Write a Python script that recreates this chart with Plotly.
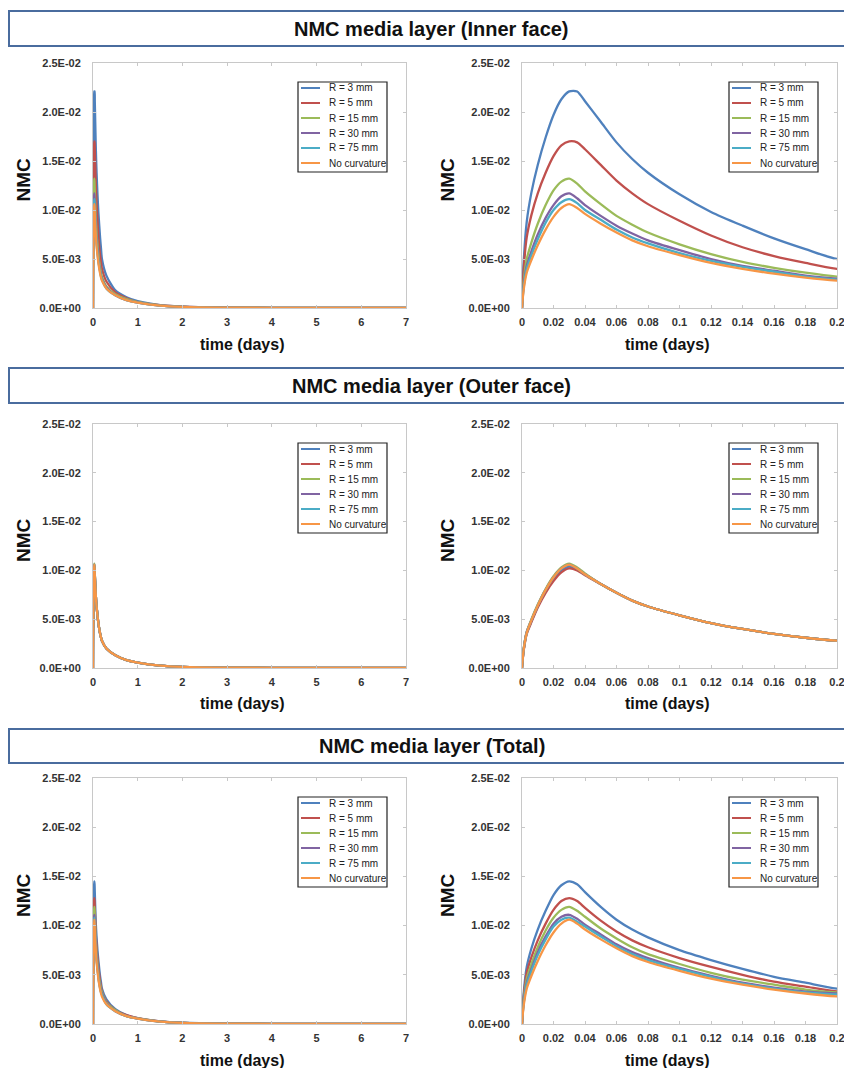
import plotly.graph_objects as go

# ---------------- data ----------------
T = [0, 0.001, 0.003, 0.006, 0.01, 0.015, 0.02, 0.025, 0.03, 0.035, 0.04, 0.05, 0.06, 0.07,
     0.08, 0.1, 0.12, 0.14, 0.16, 0.18, 0.2, 0.3, 0.5, 0.75, 1, 1.5, 2, 3, 4, 5, 6, 7]

SERIES_NAMES = ["R = 3 mm", "R = 5 mm", "R = 15 mm", "R = 30 mm", "R = 75 mm", "No curvature"]
SERIES_COLORS = ["#4F81BD", "#C0504D", "#9BBB59", "#8064A2", "#4BACC6", "#F79646"]

INNER_R3 = [0, 0.0045, 0.0088, 0.0118, 0.0146, 0.0174, 0.0197, 0.0213, 0.0221, 0.0221, 0.0211, 0.0190, 0.0169, 0.0152,
            0.0138, 0.0116, 0.0098, 0.0084, 0.0071, 0.0060, 0.0050, 0.0033, 0.0018, 0.0011, 0.0007, 0.0003, 0.00015, 0.00005, 0.00002, 0.00001, 0.000005, 0.000002]
INNER_R5 = [0, 0.0038, 0.0072, 0.0095, 0.0117, 0.0138, 0.0155, 0.0166, 0.0170, 0.0169, 0.0162, 0.0146, 0.0130, 0.0117,
            0.0106, 0.0089, 0.0074, 0.0062, 0.0053, 0.0046, 0.0040, 0.0027, 0.0016, 0.0010, 0.0006, 0.00028, 0.00013, 0.00005, 0.00002, 0.00001, 0.000005, 0.000002]
INNER_R15 = [0, 0.0026, 0.0050, 0.0067, 0.0086, 0.0105, 0.0120, 0.0129, 0.0132, 0.0127, 0.0119, 0.0106, 0.0094, 0.0085,
             0.0077, 0.0065, 0.0055, 0.0047, 0.0041, 0.0036, 0.0032, 0.0022, 0.0014, 0.0009, 0.0006, 0.00026, 0.00012, 0.00004, 0.00002, 0.00001, 0.000005, 0.000002]
INNER_R30 = [0, 0.0022, 0.0043, 0.0058, 0.0075, 0.0092, 0.0105, 0.0114, 0.0117, 0.0112, 0.0105, 0.0094, 0.0084, 0.0076,
             0.0069, 0.0059, 0.0050, 0.0043, 0.0038, 0.0033, 0.0030, 0.0021, 0.0013, 0.0008, 0.00056, 0.00025, 0.00012, 0.00004, 0.00002, 0.00001, 0.000005, 0.000002]
INNER_R75 = [0, 0.0020, 0.0040, 0.0054, 0.0070, 0.0087, 0.0100, 0.0108, 0.0111, 0.0107, 0.0100, 0.0090, 0.0080, 0.0072,
             0.0066, 0.0056, 0.0048, 0.0042, 0.0037, 0.0032, 0.0029, 0.0020, 0.0013, 0.0008, 0.00055, 0.00025, 0.00012, 0.00004, 0.00002, 0.00001, 0.000005, 0.000002]
INNER_FLAT = [0, 0.0018, 0.0036, 0.0049, 0.0064, 0.0080, 0.0093, 0.0102, 0.0106, 0.0102, 0.0096, 0.0086, 0.0077, 0.0069,
              0.0063, 0.0054, 0.0046, 0.0040, 0.0035, 0.0031, 0.0028, 0.0020, 0.0013, 0.0008, 0.00055, 0.00025, 0.00012, 0.00004, 0.00002, 0.00001, 0.000005, 0.000002]

OUTER_R3 = [0, 0.0018, 0.0036, 0.0048, 0.0063, 0.0079, 0.0091, 0.0100, 0.0104, 0.0101, 0.0096, 0.0086, 0.0077, 0.0069,
            0.0063, 0.0054, 0.0046, 0.0040, 0.0035, 0.0031, 0.0028, 0.0020, 0.0013, 0.0008, 0.00055, 0.00025, 0.00012, 0.00004, 0.00002, 0.00001, 0.000005, 0.000002]
OUTER_R5 = [0, 0.0017, 0.0035, 0.0047, 0.0062, 0.0077, 0.0089, 0.0098, 0.0102, 0.0100, 0.0095, 0.0086, 0.0077, 0.0069,
            0.0063, 0.0054, 0.0046, 0.0040, 0.0035, 0.0031, 0.0028, 0.0020, 0.0013, 0.0008, 0.00055, 0.00025, 0.00012, 0.00004, 0.00002, 0.00001, 0.000005, 0.000002]
OUTER_R15 = [0, 0.0019, 0.0037, 0.0050, 0.0065, 0.0081, 0.0094, 0.0103, 0.0107, 0.0103, 0.0097, 0.0086, 0.0077, 0.0069,
             0.0063, 0.0054, 0.0046, 0.0040, 0.0035, 0.0031, 0.0028, 0.0020, 0.0013, 0.0008, 0.00055, 0.00025, 0.00012, 0.00004, 0.00002, 0.00001, 0.000005, 0.000002]
OUTER_R30 = [0, 0.0018, 0.0037, 0.0049, 0.0064, 0.0080, 0.0093, 0.0102, 0.0106, 0.0102, 0.0096, 0.0086, 0.0077, 0.0069,
             0.0063, 0.0054, 0.0046, 0.0040, 0.0035, 0.0031, 0.0028, 0.0020, 0.0013, 0.0008, 0.00055, 0.00025, 0.00012, 0.00004, 0.00002, 0.00001, 0.000005, 0.000002]
OUTER_R75 = [0, 0.0018, 0.0036, 0.0049, 0.0064, 0.0080, 0.0093, 0.0102, 0.0106, 0.0102, 0.0096, 0.0086, 0.0077, 0.0069,
             0.0063, 0.0054, 0.0046, 0.0040, 0.0035, 0.0031, 0.0028, 0.0020, 0.0013, 0.0008, 0.00055, 0.00025, 0.00012, 0.00004, 0.00002, 0.00001, 0.000005, 0.000002]
OUTER_FLAT = [0, 0.0018, 0.0036, 0.0049, 0.0064, 0.0080, 0.0093, 0.0102, 0.0106, 0.0102, 0.0096, 0.0086, 0.0077, 0.0069,
              0.0063, 0.0054, 0.0046, 0.0040, 0.0035, 0.0031, 0.0028, 0.0020, 0.0013, 0.0008, 0.00055, 0.00025, 0.00012, 0.00004, 0.00002, 0.00001, 0.000005, 0.000002]

TOTAL_R3 = [0, 0.0030, 0.0058, 0.0077, 0.0096, 0.0115, 0.0131, 0.0141, 0.0145, 0.0142, 0.0134, 0.0119, 0.0106, 0.0096,
            0.0088, 0.0075, 0.0065, 0.0056, 0.0048, 0.0042, 0.0036, 0.0025, 0.0015, 0.0009, 0.0006, 0.00027, 0.00013, 0.00004, 0.00002, 0.00001, 0.000005, 0.000002]
TOTAL_R5 = [0, 0.0026, 0.0052, 0.0068, 0.0085, 0.0102, 0.0116, 0.0125, 0.0128, 0.0125, 0.0118, 0.0105, 0.0094, 0.0085,
            0.0078, 0.0067, 0.0058, 0.0050, 0.0043, 0.0038, 0.0033, 0.0023, 0.0014, 0.0009, 0.0006, 0.00026, 0.00012, 0.00004, 0.00002, 0.00001, 0.000005, 0.000002]
TOTAL_R15 = [0, 0.0023, 0.0046, 0.0061, 0.0078, 0.0095, 0.0108, 0.0116, 0.0119, 0.0115, 0.0109, 0.0097, 0.0087, 0.0078,
             0.0071, 0.0061, 0.0052, 0.0045, 0.0040, 0.0035, 0.0032, 0.0022, 0.0014, 0.0008, 0.00056, 0.00025, 0.00012, 0.00004, 0.00002, 0.00001, 0.000005, 0.000002]
TOTAL_R30 = [0, 0.0021, 0.0042, 0.0056, 0.0073, 0.0089, 0.0102, 0.0109, 0.0111, 0.0107, 0.0101, 0.0091, 0.0081, 0.0073,
             0.0067, 0.0057, 0.0049, 0.0042, 0.0037, 0.0033, 0.0031, 0.0021, 0.0013, 0.0008, 0.00055, 0.00025, 0.00012, 0.00004, 0.00002, 0.00001, 0.000005, 0.000002]
TOTAL_R75 = [0, 0.0020, 0.0040, 0.0054, 0.0070, 0.0086, 0.0099, 0.0106, 0.0108, 0.0104, 0.0099, 0.0089, 0.0079, 0.0071,
             0.0065, 0.0056, 0.0048, 0.0041, 0.0036, 0.0032, 0.0030, 0.0020, 0.0013, 0.0008, 0.00055, 0.00025, 0.00012, 0.00004, 0.00002, 0.00001, 0.000005, 0.000002]
TOTAL_FLAT = [0, 0.0018, 0.0036, 0.0049, 0.0064, 0.0080, 0.0093, 0.0102, 0.0106, 0.0102, 0.0096, 0.0086, 0.0077, 0.0069,
              0.0063, 0.0054, 0.0046, 0.0040, 0.0035, 0.0031, 0.0028, 0.0020, 0.0013, 0.0008, 0.00055, 0.00025, 0.00012, 0.00004, 0.00002, 0.00001, 0.000005, 0.000002]

SECTION_TITLES = ["NMC media layer (Inner face)", "NMC media layer (Outer face)", "NMC media layer (Total)"]

Y_TICKVALS = [0, 0.005, 0.01, 0.015, 0.02, 0.025]
Y_TICKTEXT = ["0.0E+00", "5.0E-03", "1.0E-02", "1.5E-02", "2.0E-02", "2.5E-02"]
X_LEFT_TICKVALS = [0, 1, 2, 3, 4, 5, 6, 7]
X_LEFT_TICKTEXT = ["0", "1", "2", "3", "4", "5", "6", "7"]
X_RIGHT_TICKVALS = [0, 0.02, 0.04, 0.06, 0.08, 0.1, 0.12, 0.14, 0.16, 0.18, 0.2]
X_RIGHT_TICKTEXT = ["0", "0.02", "0.04", "0.06", "0.08", "0.1", "0.12", "0.14", "0.16", "0.18", "0.2"]

X_TITLE = "time (days)"
Y_TITLE = "NMC"

GROUPS = [
    [INNER_R3, INNER_R5, INNER_R15, INNER_R30, INNER_R75, INNER_FLAT],
    [OUTER_R3, OUTER_R5, OUTER_R15, OUTER_R30, OUTER_R75, OUTER_FLAT],
    [TOTAL_R3, TOTAL_R5, TOTAL_R15, TOTAL_R30, TOTAL_R75, TOTAL_FLAT],
]

# ---------------- layout geometry (pixels) ----------------
W, H = 844, 1068
FONT = "Liberation Sans, Arial, sans-serif"
COL_X = [(93, 406), (522, 837)]
ROW_Y = [(63, 308), (424, 668), (778, 1024)]
HEADER_Y = [(11, 46), (368, 403), (729, 763)]
XTITLE_X = [242, 667]
YTITLE_X = [23, 447]


def px(x):
    return x / W


def py(y):
    return 1 - y / H


fig = go.Figure()
shapes = []
annotations = []
layout = {}

k = 0
for r in range(3):
    # header box (runs off the right edge like the reference)
    hy0, hy1 = HEADER_Y[r]
    shapes.append(dict(type="rect", xref="paper", yref="paper", x0=px(9), x1=px(900), y0=py(hy1), y1=py(hy0),
                       line=dict(color="#4A6C9E", width=2), fillcolor="rgba(0,0,0,0)", layer="above"))
    annotations.append(dict(xref="paper", yref="paper", x=px(432), y=py((hy0 + hy1) / 2), text=SECTION_TITLES[r],
                            showarrow=False, xanchor="center", yanchor="middle",
                            font=dict(family=FONT, size=20, color="#111111", weight="bold")))
    for c in range(2):
        k += 1
        sfx = "" if k == 1 else str(k)
        xa, ya = "x" + sfx, "y" + sfx
        x0p, x1p = COL_X[c]
        y0p, y1p = ROW_Y[r]
        pw, ph = x1p - x0p, y1p - y0p
        for name, color, vals in zip(SERIES_NAMES, SERIES_COLORS, GROUPS[r]):
            fig.add_trace(go.Scatter(x=T, y=vals, mode="lines", name=name, showlegend=False,
                                     line=dict(color=color, width=2.3, shape="spline", smoothing=0.7),
                                     xaxis=xa, yaxis=ya))
        if c == 0:
            xr, tv, tt = [0, 7], X_LEFT_TICKVALS, X_LEFT_TICKTEXT
        else:
            xr, tv, tt = [0, 0.2], X_RIGHT_TICKVALS, X_RIGHT_TICKTEXT
        axcommon = dict(showline=True, linecolor="#C8C8C8", linewidth=1, mirror="allticks", ticks="inside",
                        ticklen=3, tickcolor="#C8C8C8", showgrid=False, zeroline=False, automargin=False,
                        ticklabeloverflow="allow",
                        tickfont=dict(family=FONT, size=11, color="#333333", weight="bold"))
        layout["xaxis" + sfx] = dict(domain=[px(x0p), px(x1p)], anchor=ya, range=xr, tickvals=tv, ticktext=tt,
                                     ticklabelstandoff=4, **axcommon)
        layout["yaxis" + sfx] = dict(domain=[py(y1p), py(y0p)], anchor=xa, range=[0, 0.025],
                                     tickvals=Y_TICKVALS, ticktext=Y_TICKTEXT, ticklabelstandoff=9, **axcommon)
        # axis titles
        annotations.append(dict(xref="paper", yref="paper", x=px(XTITLE_X[c]), y=py(y1p + 36), text=X_TITLE,
                                showarrow=False, xanchor="center", yanchor="middle",
                                font=dict(family=FONT, size=16, color="#111111", weight="bold")))
        annotations.append(dict(xref="paper", yref="paper", x=px(YTITLE_X[c]), y=py((y0p + y1p) / 2 - 6),
                                text=Y_TITLE, textangle=-90, showarrow=False, xanchor="center", yanchor="middle",
                                font=dict(family=FONT, size=19, color="#111111", weight="bold")))
        # legend box (drawn per panel)
        xd, yd = xa + " domain", ya + " domain"
        shapes.append(dict(type="rect", xref=xd, yref=yd, x0=1 - 108 / pw, x1=1 - 19 / pw,
                           y0=1 - 109 / ph, y1=1 - 19 / ph, line=dict(color="#222222", width=1.2),
                           fillcolor="white", layer="above"))
        for i, (name, color) in enumerate(zip(SERIES_NAMES, SERIES_COLORS)):
            yy = 1 - (25 + 15 * i) / ph
            shapes.append(dict(type="line", xref=xd, yref=yd, x0=1 - 105 / pw, x1=1 - 86 / pw, y0=yy, y1=yy,
                               line=dict(color=color, width=2), layer="above"))
            annotations.append(dict(xref=xd, yref=yd, x=1 - 79 / pw, y=yy, text=name, showarrow=False,
                                    xanchor="left", yanchor="middle",
                                    font=dict(family=FONT, size=10, color="#222222")))

fig.update_layout(width=W, height=H, autosize=False, margin=dict(l=0, r=0, t=0, b=0, pad=0),
                  paper_bgcolor="white", plot_bgcolor="white", showlegend=False,
                  shapes=shapes, annotations=annotations, **layout)

fig.write_html("out.html",
               config={"responsive": False, "displayModeBar": False, "staticPlot": True},
               post_script="document.body.style.margin='0';document.body.style.padding='0';"
                           "document.body.style.overflow='hidden';")
